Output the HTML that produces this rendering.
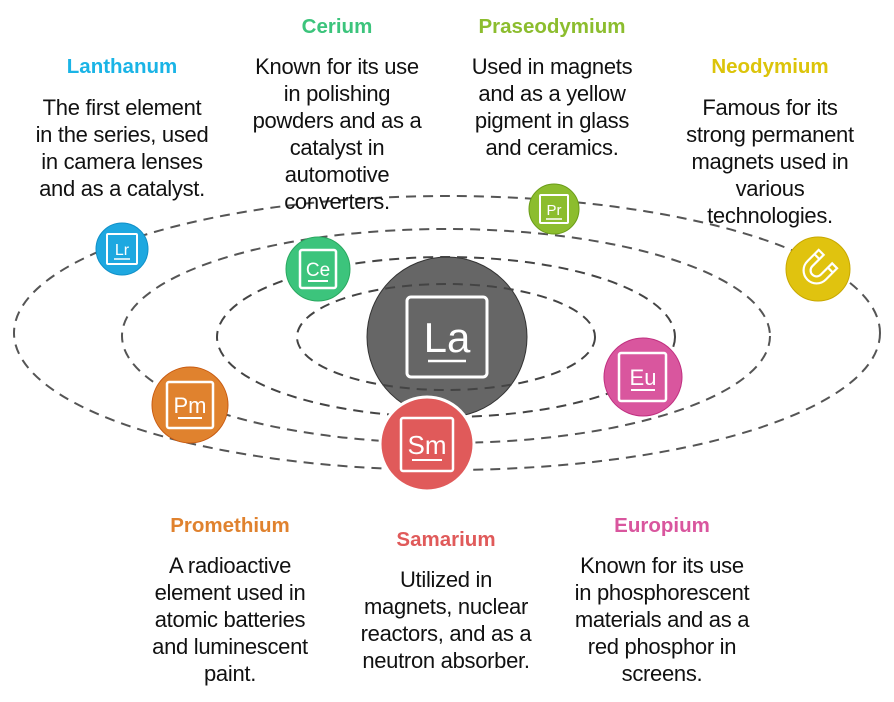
<!DOCTYPE html>
<html><head><meta charset="utf-8"><style>
body{margin:0;width:894px;height:702px;background:#fff;position:relative;overflow:hidden;font-family:"Liberation Sans",sans-serif}
.t{position:absolute;width:300px;text-align:center;font-weight:bold;font-size:20.5px;line-height:24px}
.b{position:absolute;width:300px;text-align:center;font-size:22px;line-height:27px;color:#111;letter-spacing:-0.3px}
svg{position:absolute;left:0;top:0}
</style></head><body>
<svg width="894" height="702" viewBox="0 0 894 702">
<g fill="none" stroke="#555" stroke-width="2" stroke-dasharray="10 7">
<ellipse cx="447" cy="333" rx="433" ry="137"/>
<ellipse cx="446" cy="336" rx="324" ry="107"/>
</g>
<circle cx="447" cy="337" r="80" fill="#666" stroke="#333" stroke-width="1"/>
<g fill="none" stroke="#444" stroke-width="2" stroke-dasharray="10 7">
<ellipse cx="446" cy="337" rx="229" ry="80"/>
<ellipse cx="446" cy="337" rx="149" ry="53"/>
</g>
<rect x="407" y="297" width="80" height="80" rx="4" fill="none" stroke="#fff" stroke-width="3"/>
<text x="447" y="352" font-size="42" fill="#fff" text-anchor="middle" font-family="Liberation Sans">La</text>
<line x1="428" y1="361" x2="466" y2="361" stroke="#fff" stroke-width="2.5"/>
<g font-family="Liberation Sans" fill="#fff" text-anchor="middle">
<circle cx="427" cy="444" r="47" fill="#e05a5a" stroke="#fff" stroke-width="3"/>
<rect x="401" y="418" width="52" height="53" rx="2" fill="none" stroke="#fff" stroke-width="2.5"/>
<text x="427" y="454" font-size="26">Sm</text>
<line x1="412" y1="460" x2="442" y2="460" stroke="#fff" stroke-width="2"/>
<circle cx="318" cy="269" r="32" fill="#3cc47c" stroke="#2aa860"/>
<rect x="300" y="250" width="36" height="38" rx="2" fill="none" stroke="#fff" stroke-width="2.5"/>
<text x="318" y="276" font-size="19">Ce</text>
<line x1="308" y1="281" x2="328" y2="281" stroke="#fff" stroke-width="2"/>
<circle cx="554" cy="209" r="25" fill="#8cbd2e" stroke="#6a9c18"/>
<rect x="540" y="195" width="28" height="28" rx="1" fill="none" stroke="#fff" stroke-width="2"/>
<text x="554" y="215" font-size="15">Pr</text>
<line x1="546" y1="219" x2="562" y2="219" stroke="#fff" stroke-width="1.5"/>
<circle cx="122" cy="249" r="26" fill="#1ea8e0" stroke="#1090c8"/>
<rect x="107" y="234" width="30" height="30" rx="1" fill="none" stroke="#fff" stroke-width="2"/>
<text x="122" y="255" font-size="16">Lr</text>
<line x1="114" y1="259" x2="130" y2="259" stroke="#fff" stroke-width="1.5"/>
<circle cx="190" cy="405" r="38" fill="#e0822e" stroke="#c85a10"/>
<rect x="167" y="382" width="46" height="46" rx="2" fill="none" stroke="#fff" stroke-width="2.5"/>
<text x="190" y="413" font-size="22">Pm</text>
<line x1="178" y1="418" x2="202" y2="418" stroke="#fff" stroke-width="2"/>
<circle cx="643" cy="377" r="39" fill="#d9569e" stroke="#c03080"/>
<rect x="619" y="353" width="47" height="48" rx="2" fill="none" stroke="#fff" stroke-width="2.5"/>
<text x="643" y="385" font-size="22">Eu</text>
<line x1="631" y1="390" x2="655" y2="390" stroke="#fff" stroke-width="2"/>
<circle cx="818" cy="269" r="32" fill="#e0c30f" stroke="#c8a800"/>
<g transform="translate(818,269) rotate(45)" stroke="#fff" stroke-width="2.2" fill="none">
<path d="M-13,-14 V2 A13,13 0 0 0 13,2 V-14 H6 V2 A6,6 0 0 1 -6,2 V-14 Z"/>
<line x1="-13" y1="-8" x2="-6" y2="-8"/><line x1="6" y1="-8" x2="13" y2="-8"/>
</g>
</g>
</svg>

<div class="t" style="left:-28px;top:55px;color:#1ab4e6">Lanthanum</div>
<div class="b" style="left:-28px;top:94px">The first element<br>in the series, used<br>in camera lenses<br>and as a catalyst.</div>

<div class="t" style="left:187px;top:15px;color:#3cc47c">Cerium</div>
<div class="b" style="left:187px;top:53px">Known for its use<br>in polishing<br>powders and as a<br>catalyst in<br>automotive<br>converters.</div>

<div class="t" style="left:402px;top:15px;color:#8cbd2e">Praseodymium</div>
<div class="b" style="left:402px;top:53px">Used in magnets<br>and as a yellow<br>pigment in glass<br>and ceramics.</div>

<div class="t" style="left:620px;top:55px;color:#dcc40a">Neodymium</div>
<div class="b" style="left:620px;top:94px">Famous for its<br>strong permanent<br>magnets used in<br>various<br>technologies.</div>

<div class="t" style="left:80px;top:514px;color:#e0822e">Promethium</div>
<div class="b" style="left:80px;top:552px">A radioactive<br>element used in<br>atomic batteries<br>and luminescent<br>paint.</div>

<div class="t" style="left:296px;top:528px;color:#e05a5a">Samarium</div>
<div class="b" style="left:296px;top:566px">Utilized in<br>magnets, nuclear<br>reactors, and as a<br>neutron absorber.</div>

<div class="t" style="left:512px;top:514px;color:#d9569e">Europium</div>
<div class="b" style="left:512px;top:552px">Known for its use<br>in phosphorescent<br>materials and as a<br>red phosphor in<br>screens.</div>
</body></html>
